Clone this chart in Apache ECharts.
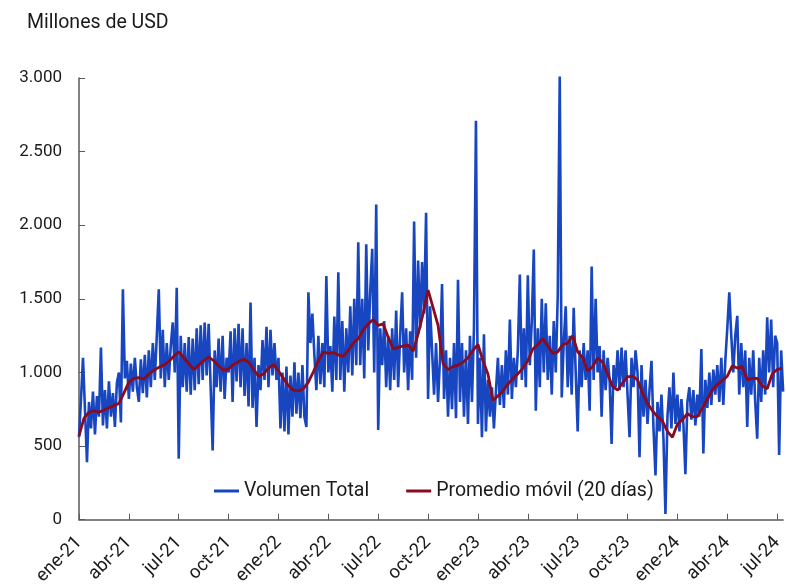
<!DOCTYPE html>
<html>
<head>
<meta charset="utf-8">
<script src="https://cdn.jsdelivr.net/npm/echarts@6/dist/echarts.min.js"></script>
<style>
  html, body { margin: 0; padding: 0; background: #fff; }
  #chart { width: 786px; height: 588px; }
</style>
</head>
<body>
<div id="chart"></div>
<script>
// eje x en trimestres: 0 = ene-21, 1 = abr-21, ...
const quarterLabels = ["ene-21", "abr-21", "jul-21", "oct-21", "ene-22", "abr-22", "jul-22",
  "oct-22", "ene-23", "abr-23", "jul-23", "oct-23", "ene-24", "abr-24", "jul-24"];
const yTicks = [0, 500, 1000, 1500, 2000, 2500, 3000];

// Volumen Total (millones de USD), un valor cada 0,04 trimestre
const volumeStep = 0.04;
const volumeTotal = [
  560, 820, 1100, 1110, 390, 800, 620, 870, 580, 840,
  700, 1170, 640, 880, 620, 940, 700, 860, 630, 930,
  1000, 660, 1565, 960, 1080, 820, 1060, 870, 1100, 900,
  800, 1090, 860, 1120, 830, 1150, 900, 1200, 950, 1250,
  1565, 960, 1290, 900, 1200, 950, 1180, 1340, 1000, 1575,
  415, 1250, 900, 1200, 870, 1240, 850, 1230, 880, 1300,
  920, 1320, 950, 1340, 980, 1330, 900, 470, 1150, 900,
  1230, 870, 1250, 820, 1100, 1000, 1280, 800, 1300, 940,
  1330, 900, 1300, 840, 1200, 770, 1475, 760, 1100, 630,
  1050, 880, 1220, 950, 1310, 900, 1290, 980, 1200, 950,
  1100, 620, 1000, 600, 1040, 580, 980, 700, 1070, 720,
  1000, 690, 1050, 700, 630, 1545, 1200, 1400, 1120, 880,
  1250, 920, 1200, 900, 1655, 1000, 1180, 870, 1380, 950,
  1680, 950, 1350, 870, 1300, 1000, 1450, 980, 1500, 1050,
  1885, 1050, 1500, 960, 1870, 1150, 1550, 1840, 1000, 2140,
  610, 1300, 1050, 1350, 900, 1250, 880, 1300, 950, 1420,
  900, 1250, 1545, 1000, 1300, 880, 1280, 950, 2025, 1100,
  1760, 1300, 1750, 1400, 2085, 820, 1450, 1150, 850, 1200,
  800, 1100, 1600, 820, 1150, 700, 1100, 750, 1200, 690,
  1630, 800, 1200, 700, 1150, 650, 1250, 800, 1300, 2710,
  650, 1100, 560, 1260, 600, 950, 700, 900, 620, 870,
  1100, 780, 1050, 760, 1150, 850, 1360, 820, 1100, 900,
  1150, 1665, 950, 1300, 900, 1660, 1050, 1350, 1835, 740,
  1300, 900, 1500, 1000, 1470, 950, 1250, 850, 1350, 1000,
  1520, 3010, 830, 1200, 1450, 900, 1250, 850, 1440, 1000,
  600, 1150, 900, 1200, 950, 1150, 740, 1720, 950, 1500,
  1000, 1180, 700, 1150, 880, 1100, 950, 515, 1050, 900,
  1150, 880, 1170, 900, 1150, 850, 560, 1100, 900, 1150,
  1000, 425, 1050, 700, 950, 650, 880, 1080, 620, 300,
  800, 600, 850, 550, 40, 700, 900, 620, 1000, 650,
  850, 600, 820, 650, 310, 800, 900, 680, 880, 640,
  850, 700, 1160, 450, 950, 760, 1000, 780, 1020, 850,
  1050, 800, 1100, 780, 1080, 1300, 1545, 1250, 1000, 1250,
  1385, 850, 1200, 900, 1150, 630, 1100, 850, 1150, 800,
  550, 1100, 800, 1150, 850, 1375, 1000, 1360, 900, 1250,
  1200, 440, 1150, 870
];

// Promedio móvil (20 días), un valor cada 0,1 trimestre
const avgStep = 0.1;
const movingAvg = [
  570, 690, 730, 740, 730, 745, 760, 775, 790, 860,
  935, 960, 965, 955, 990, 1015, 1035, 1050, 1075, 1110,
  1140, 1100, 1060, 1020, 1050, 1080, 1105, 1080, 1045, 1015,
  1025, 1055, 1075, 1090, 1070, 1020, 975, 990, 1030, 1055,
  1010, 960, 910, 880, 875, 890, 935, 1005, 1080, 1140,
  1130, 1135, 1120, 1110, 1150, 1200, 1230, 1290, 1330, 1360,
  1320, 1330, 1240, 1160, 1170, 1180, 1185, 1145, 1260, 1400,
  1560, 1440, 1320, 1060, 1020, 1040, 1050, 1070, 1100, 1150,
  1190, 1080, 990, 810, 840, 875, 920, 960, 990, 1030,
  1080, 1160, 1190, 1230, 1180, 1130, 1140, 1190, 1200, 1250,
  1140, 1100, 1010, 1040, 1100, 1070, 990, 905, 880, 930,
  970, 975, 950, 860, 790, 740, 700, 670, 600, 560,
  650, 680, 720, 700, 700, 760, 820, 880, 920, 945,
  975, 1045, 1030, 1040, 950, 960, 960, 910, 890, 990,
  1020, 1030
];

const FONT = "Roboto";

function toPairs(values, step) {
  return values.map((v, i) => [+(i * step).toFixed(3), v]);
}

function fmtThousands(v) {
  return String(v).replace(/\B(?=(\d{3})+(?!\d))/g, ".");
}

const makeOption = () => {
  return {
    animation: false,
    title: {
      text: "Millones de USD",
      left: 22,
      top: 8,
      textStyle: { fontFamily: FONT, fontSize: 19.5, fontWeight: "normal", color: "#1a1a1a" }
    },
    legend: {
      left: 209,
      top: 476,
      itemWidth: 25,
      itemHeight: 3,
      itemGap: 37,
      textStyle: { fontFamily: FONT, fontSize: 19.5, color: "#1a1a1a" },
      data: [
        { name: "Volumen Total", icon: "rect" },
        { name: "Promedio móvil (20 días)", icon: "rect" }
      ]
    },
    grid: {
      left: 79,
      right: 0,
      top: 78,
      bottom: 66,
      containLabel: false
    },
    xAxis: {
      type: "value",
      min: 0,
      max: 14.12,
      interval: 1,
      splitLine: { show: false },
      axisLine: { lineStyle: { color: "#595959", width: 1.5 } },
      axisTick: { inside: true, length: 6, lineStyle: { color: "#595959" } },
      axisLabel: {
        rotate: 45,
        margin: 20,
        fontFamily: FONT,
        fontSize: 18.5,
        color: "#1a1a1a",
        showMaxLabel: false,
        formatter: function(val) {
          return Number.isInteger(val) ? quarterLabels[val] || "" : "";
        }
      }
    },
    yAxis: {
      type: "value",
      min: yTicks[0],
      max: yTicks[yTicks.length - 1],
      interval: 500,
      splitLine: { show: false },
      axisLine: { show: true, lineStyle: { color: "#595959", width: 1.5 } },
      axisTick: { show: true, inside: true, length: 6, lineStyle: { color: "#595959" } },
      axisLabel: {
        margin: 17,
        fontFamily: FONT,
        fontSize: 17,
        color: "#1a1a1a",
        formatter: fmtThousands
      }
    },
    series: [
      {
        name: "Volumen Total",
        type: "line",
        symbol: "none",
        clip: false,
        color: "#1846c0",
        lineStyle: { width: 2.6, color: "#1846c0" },
        data: toPairs(volumeTotal, volumeStep)
      },
      {
        name: "Promedio móvil (20 días)",
        type: "line",
        symbol: "none",
        color: "#8a0a1e",
        lineStyle: { width: 2.8, color: "#8a0a1e" },
        data: toPairs(movingAvg, avgStep)
      }
    ]
  };
};

const chart = echarts.init(document.getElementById("chart"), null, { renderer: "canvas" });
chart.setOption(makeOption());
</script>
</body>
</html>
